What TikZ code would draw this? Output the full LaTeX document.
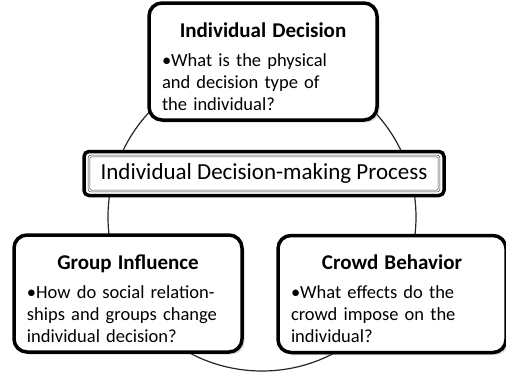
\documentclass[tikz,border=0pt]{standalone}
\usepackage{fontspec}
\setmainfont{Carlito}
\usetikzlibrary{shadows}

\newcommand{\bulq}[1]{\par\raggedright\setbox0=\hbox{\textbullet}\hangindent=\wd0 \hangafter=1 \noindent\box0#1\par}
\newcommand{\boxtitle}[1]{{\centering\fontsize{21}{25}\selectfont\bfseries\rule{0pt}{25pt}#1\par}\vspace{7pt}}

\begin{document}
\begin{tikzpicture}[x=1pt,y=-1pt,
    qbox/.style={draw, line width=3.5pt, rounded corners=13pt, fill=white,
        text width=202pt, inner xsep=13pt, inner ysep=0pt, minimum height=117pt,
        font=\fontsize{18.5}{22}\selectfont,
        drop shadow={shadow xshift=2.5pt, shadow yshift=-2.5pt, opacity=0.3}},
    procframe/.style={draw, line width=3.5pt, rounded corners=5pt, fill=white,
        minimum width=360pt, minimum height=44pt},
    procbox/.style={draw=black!75, line width=0.6pt, double=white, double distance=1.2pt,
        rounded corners=2pt, minimum width=350pt, minimum height=35pt,
        font=\fontsize{23}{27}\selectfont}]
    \useasboundingbox (0,0) rectangle (506,372);
    \coordinate (ctr) at (262,217);
    \draw[line width=1.2pt, black!85] (ctr) circle (154pt);
    \node[qbox, minimum width=228pt] (ind) at (263,61.5) {%
        \boxtitle{Individual Decision}%
        \bulq{What is the physical\\and decision type of\\the individual?}};
    \node[procframe] (frame) at (264,173.5) {};
    \node[procbox] (proc) at (264,173.5) {Individual Decision-making Process};
    \node[qbox, minimum width=228pt] (grp) at (128,293.5) {%
        \boxtitle{Group Influence}%
        \bulq{How do social relation-\\ships and groups change\\individual decision?}};
    \node[qbox, minimum width=222pt] (crowd) at (392,294) {%
        \boxtitle{Crowd Behavior}%
        \bulq{What effects do the\\crowd impose on the\\individual?}};
\end{tikzpicture}
\end{document}
